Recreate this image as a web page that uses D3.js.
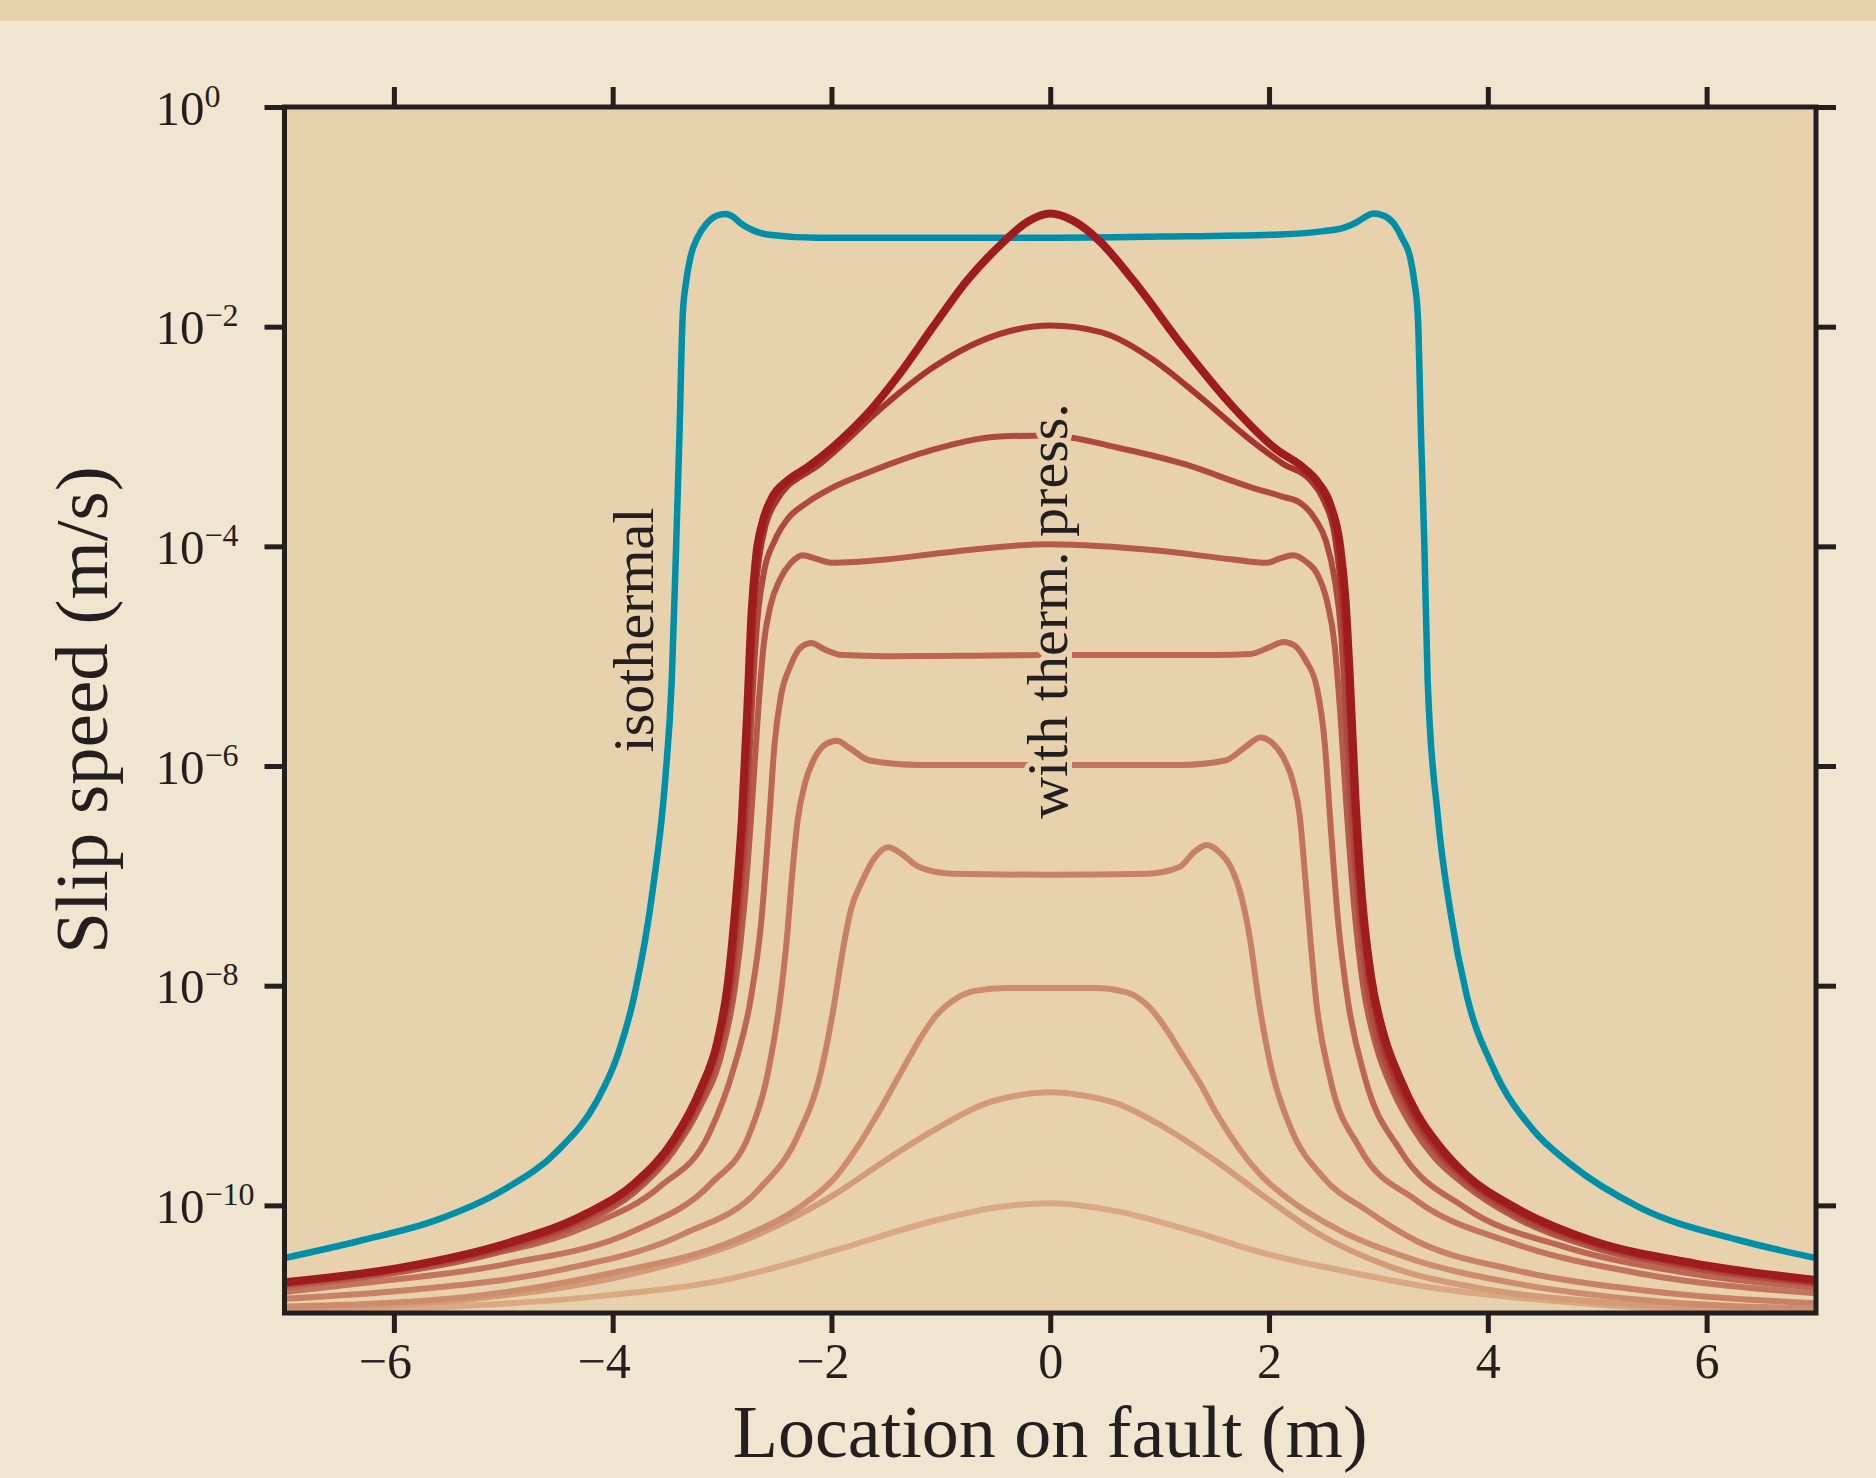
<!DOCTYPE html>
<html>
<head>
<meta charset="utf-8">
<script src="https://cdn.jsdelivr.net/npm/d3@7"></script>
<style>
  body { margin: 0; background: #f0e5cf; }
  svg { display: block; }
  text { font-family: 'Liberation Serif', 'DejaVu Serif', serif; fill: #231f20; }
</style>
</head>
<body>
<div id="chart"></div>
<script>
// tick values
const xTicks = [-6, -4, -2, 0, 2, 4, 6];
const yExponents = [0, -2, -4, -6, -8, -10];

// each series: [location (m), log10 slip speed (m/s)]
const isothermal = [[-7,-10.48],[-6.3,-10.32],[-5.6,-10.13],[-5.0,-9.86],[-4.5,-9.5],[-4.15,-9.06],[-3.95,-8.62],[-3.8,-8.08],[-3.63,-7.1],[-3.52,-6.13],[-3.46,-5.22],[-3.42,-4.0],[-3.39,-3.0],[-3.36,-1.9],[-3.33,-1.6],[-3.29,-1.37],[-3.22,-1.18],[-3.14,-1.06],[-3.05,-0.99],[-2.97,-0.975],[-2.9,-1.0],[-2.83,-1.06],[-2.7,-1.13],[-2.59,-1.16],[-2.13,-1.19],[-1,-1.19],[0,-1.19],[1,-1.18],[2.1,-1.16],[2.5,-1.13],[2.68,-1.1],[2.8,-1.05],[2.88,-1.0],[2.95,-0.97],[3.05,-0.99],[3.14,-1.06],[3.22,-1.2],[3.29,-1.37],[3.33,-1.6],[3.36,-1.9],[3.39,-3.0],[3.42,-4.0],[3.45,-5.22],[3.54,-6.43],[3.66,-7.34],[3.81,-8.1],[4.05,-8.75],[4.42,-9.32],[4.75,-9.62],[5.39,-10.02],[6.31,-10.32],[7,-10.48]];

const press1 = [[-7,-10.70],[-5.9,-10.56],[-4.95,-10.34],[-4.25,-10.08],[-3.8,-9.8],[-3.44,-9.4],[-3.2,-8.95],[-3.04,-8.5],[-2.95,-8.0],[-2.88,-7.3],[-2.82,-6.5],[-2.77,-5.5],[-2.73,-4.6],[-2.69,-4.1],[-2.63,-3.78],[-2.55,-3.57],[-2.40,-3.40],[-2.22,-3.28],[-1.98,-3.09],[-1.67,-2.79],[-1.37,-2.42],[-1.07,-2.0],[-0.76,-1.58],[-0.45,-1.25],[-0.2,-1.04],[0,-0.97],[0.2,-1.03],[0.45,-1.22],[0.76,-1.58],[1.22,-2.19],[1.67,-2.73],[2.07,-3.12],[2.31,-3.28],[2.45,-3.42],[2.56,-3.62],[2.65,-4.0],[2.70,-4.5],[2.74,-5.22],[2.79,-6.3],[2.85,-7.2],[2.93,-7.9],[3.05,-8.45],[3.2,-8.85],[3.35,-9.16],[3.55,-9.45],[3.8,-9.72],[4.25,-10.02],[4.95,-10.32],[5.9,-10.53],[7,-10.68]];

const press2 = [[-7,-10.71],[-5.9,-10.57],[-4.95,-10.36],[-4.25,-10.1],[-3.8,-9.82],[-3.44,-9.43],[-3.2,-9.0],[-3.03,-8.5],[-2.93,-8.0],[-2.86,-7.3],[-2.80,-6.5],[-2.75,-5.5],[-2.71,-4.6],[-2.66,-4.1],[-2.6,-3.8],[-2.5,-3.58],[-2.4,-3.45],[-2.29,-3.37],[-2.13,-3.27],[-1.92,-3.09],[-1.53,-2.73],[-1.07,-2.37],[-0.61,-2.12],[0,-1.99],[0.46,-2.05],[0.91,-2.28],[1.37,-2.64],[1.83,-3.03],[2.13,-3.25],[2.38,-3.40],[2.5,-3.58],[2.6,-3.9],[2.67,-4.5],[2.72,-5.22],[2.77,-6.3],[2.83,-7.2],[2.91,-7.9],[3.02,-8.45],[3.17,-8.87],[3.33,-9.19],[3.53,-9.48],[3.8,-9.75],[4.25,-10.05],[4.95,-10.34],[5.9,-10.55],[7,-10.70]];

const press3 = [[-7,-10.72],[-5.9,-10.58],[-4.95,-10.38],[-4.25,-10.12],[-3.8,-9.85],[-3.44,-9.46],[-3.2,-9.05],[-3.02,-8.55],[-2.91,-8.0],[-2.84,-7.3],[-2.78,-6.5],[-2.73,-5.5],[-2.68,-4.7],[-2.62,-4.25],[-2.52,-3.95],[-2.4,-3.75],[-2.22,-3.60],[-2.0,-3.47],[-1.67,-3.33],[-1.07,-3.12],[-0.46,-3.0],[0,-2.99],[0.61,-3.10],[1.22,-3.25],[1.83,-3.46],[2.13,-3.55],[2.28,-3.60],[2.42,-3.75],[2.52,-3.95],[2.60,-4.3],[2.66,-4.8],[2.70,-5.5],[2.75,-6.4],[2.81,-7.2],[2.89,-7.95],[3.0,-8.5],[3.15,-8.9],[3.32,-9.22],[3.52,-9.5],[3.8,-9.78],[4.25,-10.08],[4.95,-10.36],[5.9,-10.57],[7,-10.71]];

const press4 = [[-7,-10.73],[-5.9,-10.6],[-4.95,-10.4],[-4.25,-10.15],[-3.8,-9.88],[-3.44,-9.5],[-3.2,-9.1],[-3.0,-8.6],[-2.88,-8.0],[-2.8,-7.3],[-2.73,-6.4],[-2.67,-5.5],[-2.62,-4.9],[-2.56,-4.55],[-2.47,-4.3],[-2.37,-4.15],[-2.26,-4.08],[-2.15,-4.11],[-2.0,-4.15],[-1.5,-4.12],[-1.0,-4.06],[0,-3.98],[1.0,-4.04],[1.67,-4.12],[1.98,-4.15],[2.1,-4.11],[2.22,-4.08],[2.34,-4.14],[2.44,-4.25],[2.53,-4.5],[2.6,-4.9],[2.65,-5.5],[2.71,-6.4],[2.78,-7.3],[2.86,-8.0],[2.98,-8.55],[3.13,-8.95],[3.3,-9.27],[3.5,-9.55],[3.8,-9.82],[4.25,-10.11],[4.95,-10.38],[5.9,-10.58],[7,-10.72]];

const press5 = [[-7,-10.75],[-5.4,-10.5],[-4.26,-10.2],[-3.57,-9.83],[-3.12,-9.35],[-2.89,-8.74],[-2.74,-8.13],[-2.64,-7.4],[-2.57,-6.5],[-2.52,-5.8],[-2.46,-5.35],[-2.38,-5.1],[-2.28,-4.92],[-2.18,-4.88],[-2.08,-4.93],[-1.9,-4.99],[-1.5,-5.0],[0,-4.99],[1.5,-4.99],[1.83,-4.98],[2.0,-4.92],[2.13,-4.87],[2.23,-4.9],[2.33,-5.03],[2.44,-5.3],[2.51,-5.8],[2.56,-6.5],[2.63,-7.4],[2.72,-8.13],[2.88,-8.85],[3.2,-9.5],[3.79,-10.02],[4.71,-10.38],[5.85,-10.62],[7,-10.75]];

const press6 = [[-7,-10.79],[-6.3,-10.71],[-4.95,-10.53],[-3.8,-10.23],[-3.1,-9.8],[-2.75,-9.35],[-2.57,-8.74],[-2.47,-8.13],[-2.41,-7.6],[-2.36,-7.0],[-2.31,-6.5],[-2.24,-6.15],[-2.15,-5.92],[-2.05,-5.8],[-1.95,-5.77],[-1.83,-5.84],[-1.65,-5.95],[-1.2,-5.99],[0,-5.99],[1.2,-5.99],[1.6,-5.95],[1.78,-5.83],[1.92,-5.74],[2.03,-5.79],[2.13,-5.92],[2.22,-6.15],[2.28,-6.45],[2.33,-7.0],[2.38,-7.6],[2.43,-8.13],[2.56,-8.85],[2.83,-9.48],[3.34,-9.95],[4.25,-10.35],[5.39,-10.62],[7,-10.80]];

const press7 = [[-7,-10.85],[-5.86,-10.77],[-4.49,-10.59],[-3.35,-10.26],[-2.66,-9.85],[-2.3,-9.35],[-2.1,-8.8],[-1.98,-8.2],[-1.9,-7.7],[-1.82,-7.3],[-1.72,-7.05],[-1.6,-6.83],[-1.48,-6.74],[-1.36,-6.8],[-1.2,-6.92],[-0.9,-6.98],[0,-6.99],[0.9,-6.98],[1.18,-6.92],[1.32,-6.78],[1.43,-6.72],[1.54,-6.78],[1.65,-6.92],[1.75,-7.2],[1.83,-7.6],[1.9,-8.1],[2.02,-8.75],[2.2,-9.3],[2.5,-9.75],[2.9,-10.05],[3.34,-10.32],[4.25,-10.59],[5.39,-10.77],[7,-10.89]];

const press8 = [[-7,-10.92],[-5.4,-10.84],[-4.03,-10.62],[-2.89,-10.32],[-2.2,-9.95],[-1.97,-9.75],[-1.75,-9.45],[-1.55,-9.12],[-1.37,-8.8],[-1.2,-8.5],[-1.05,-8.28],[-0.88,-8.13],[-0.7,-8.05],[-0.4,-8.02],[0,-8.02],[0.4,-8.02],[0.7,-8.06],[0.91,-8.2],[1.05,-8.38],[1.22,-8.65],[1.37,-8.89],[1.53,-9.18],[1.74,-9.5],[1.95,-9.75],[2.19,-9.95],[2.65,-10.23],[3.34,-10.5],[4.25,-10.71],[5.39,-10.86],[7,-10.94]];

const press9 = [[-7,-10.95],[-5.17,-10.84],[-3.8,-10.62],[-2.66,-10.26],[-1.97,-9.9],[-1.52,-9.6],[-1.07,-9.32],[-0.61,-9.08],[-0.3,-9.0],[0,-8.97],[0.3,-9.0],[0.6,-9.07],[1.06,-9.3],[1.52,-9.6],[1.97,-9.93],[2.42,-10.24],[3.11,-10.56],[4.02,-10.77],[5.16,-10.89],[7,-10.97]];

const press10 = [[-7,-10.98],[-5.63,-10.93],[-4.26,-10.84],[-2.89,-10.66],[-1.97,-10.41],[-1.06,-10.14],[-0.5,-10.02],[0,-9.98],[0.59,-10.05],[1.28,-10.23],[1.97,-10.44],[2.65,-10.59],[3.56,-10.76],[4.48,-10.86],[5.39,-10.93],[7,-10.98]];

const pressSeries = [press1, press2, press3, press4, press5, press6, press7, press8, press9, press10];
const pressColors = ['#9e1b20', '#a7352f', '#ae4a40', '#b65b4c', '#bc6754', '#c3745d', '#c88165', '#cd8d6c', '#d39b76', '#daa881'];

const svgWidth = 1876;
const svgHeight = 1478;
const plot = { left: 284.5, right: 1816, top: 107, bottom: 1313 };

const svg = d3.select('#chart')
  .append('svg')
  .attr('width', svgWidth)
  .attr('height', svgHeight);

svg.append('rect')
  .attr('width', svgWidth).attr('height', svgHeight)
  .attr('fill', '#f0e5cf');

// top band
svg.append('rect')
  .attr('width', svgWidth).attr('height', 21)
  .attr('fill', '#e8d2ac');

const xScale = d3.scaleLinear()
  .domain([-7, 7])
  .range([plot.left, plot.right]);

const yScale = d3.scaleLog()
  .domain([Math.pow(10, -10.98), 1])
  .range([plot.bottom, plot.top]);

svg.append('rect')
  .attr('x', plot.left).attr('y', plot.top)
  .attr('width', plot.right - plot.left)
  .attr('height', plot.bottom - plot.top)
  .attr('fill', '#e8d2ad');

svg.append('clipPath').attr('id', 'clip')
  .append('rect')
  .attr('x', plot.left).attr('y', plot.top)
  .attr('width', plot.right - plot.left)
  .attr('height', plot.bottom - plot.top);

const line = d3.line()
  .x(d => xScale(d[0]))
  .y(d => yScale(Math.pow(10, d[1])))
  .curve(d3.curveMonotoneX);

const lines = svg.append('g').attr('clip-path', 'url(#clip)');

lines.append('path')
  .datum(isothermal)
  .attr('d', line)
  .attr('fill', 'none')
  .attr('stroke', '#008fa9')
  .attr('stroke-width', 6.5)
  .attr('stroke-linejoin', 'round');

// lightest first so the darkest sits on top
for (let i = pressSeries.length - 1; i >= 0; i--) {
  lines.append('path')
    .datum(pressSeries[i])
    .attr('d', line)
    .attr('fill', 'none')
    .attr('stroke', pressColors[i])
    .attr('stroke-width', i === 0 ? 8 : 6)
    .attr('stroke-linejoin', 'round');
}

// curve labels with a halo
const labelStyle = sel => sel
  .attr('font-size', 58)
  .attr('text-anchor', 'middle')
  .attr('stroke', '#e8d2ad')
  .attr('stroke-width', 10)
  .attr('paint-order', 'stroke');

svg.append('text')
  .attr('transform', 'translate(653, 630) rotate(-90)')
  .call(labelStyle)
  .text('isothermal');

svg.append('text')
  .attr('transform', 'translate(1067, 611) rotate(-90)')
  .call(labelStyle)
  .text('with therm. press.');

// axes
const tickLen = 20;
const styleAxis = g => {
  g.select('.domain').remove();
  g.selectAll('.tick line').attr('stroke', '#231f20').attr('stroke-width', 5);
};

svg.append('g')
  .attr('transform', `translate(0, ${plot.bottom})`)
  .call(d3.axisBottom(xScale).tickValues(xTicks).tickSize(tickLen)
    .tickFormat(d => (d < 0 ? '\u2212' : '') + Math.abs(d)))
  .call(styleAxis)
  .call(g => g.selectAll('.tick text')
    .attr('x', d => (d < 0 ? -9 : 0))
    .attr('y', 65).attr('dy', 0)
    .attr('font-size', 50)
    .attr('font-family', "'Liberation Serif', serif")
    .attr('fill', '#231f20'));

svg.append('g')
  .attr('transform', `translate(0, ${plot.top})`)
  .call(d3.axisTop(xScale).tickValues(xTicks).tickSize(tickLen).tickFormat(''))
  .call(styleAxis);

const yTickValues = yExponents.map(e => Math.pow(10, e));

svg.append('g')
  .attr('transform', `translate(${plot.right}, 0)`)
  .call(d3.axisRight(yScale).tickValues(yTickValues).tickSize(tickLen).tickFormat(''))
  .call(styleAxis);

const leftAxis = svg.append('g')
  .attr('transform', `translate(${plot.left}, 0)`)
  .call(d3.axisLeft(yScale).tickValues(yTickValues).tickSize(tickLen).tickFormat(''))
  .call(styleAxis);

leftAxis.selectAll('.tick').each(function (d) {
  const e = Math.round(Math.log10(d));
  const t = d3.select(this).append('text')
    .attr('x', -129)
    .attr('y', 17)
    .attr('text-anchor', 'start')
    .attr('font-size', 49)
    .attr('font-family', "'Liberation Serif', serif")
    .attr('fill', '#231f20');
  t.append('tspan').text('10');
  t.append('tspan')
    .attr('font-size', 32)
    .attr('dy', -18)
    .text(e < 0 ? '\u2212' + Math.abs(e) : String(e));
});

// frame
svg.append('rect')
  .attr('x', plot.left).attr('y', plot.top)
  .attr('width', plot.right - plot.left)
  .attr('height', plot.bottom - plot.top)
  .attr('fill', 'none')
  .attr('stroke', '#231f20')
  .attr('stroke-width', 5);

// axis titles
svg.append('text')
  .attr('x', (plot.left + plot.right) / 2)
  .attr('y', 1457)
  .attr('text-anchor', 'middle')
  .attr('font-size', 74)
  .text('Location on fault (m)');

svg.append('text')
  .attr('transform', `translate(107, ${(plot.top + plot.bottom) / 2}) rotate(-90)`)
  .attr('text-anchor', 'middle')
  .attr('font-size', 75)
  .text('Slip speed (m/s)');
</script>
</body>
</html>
